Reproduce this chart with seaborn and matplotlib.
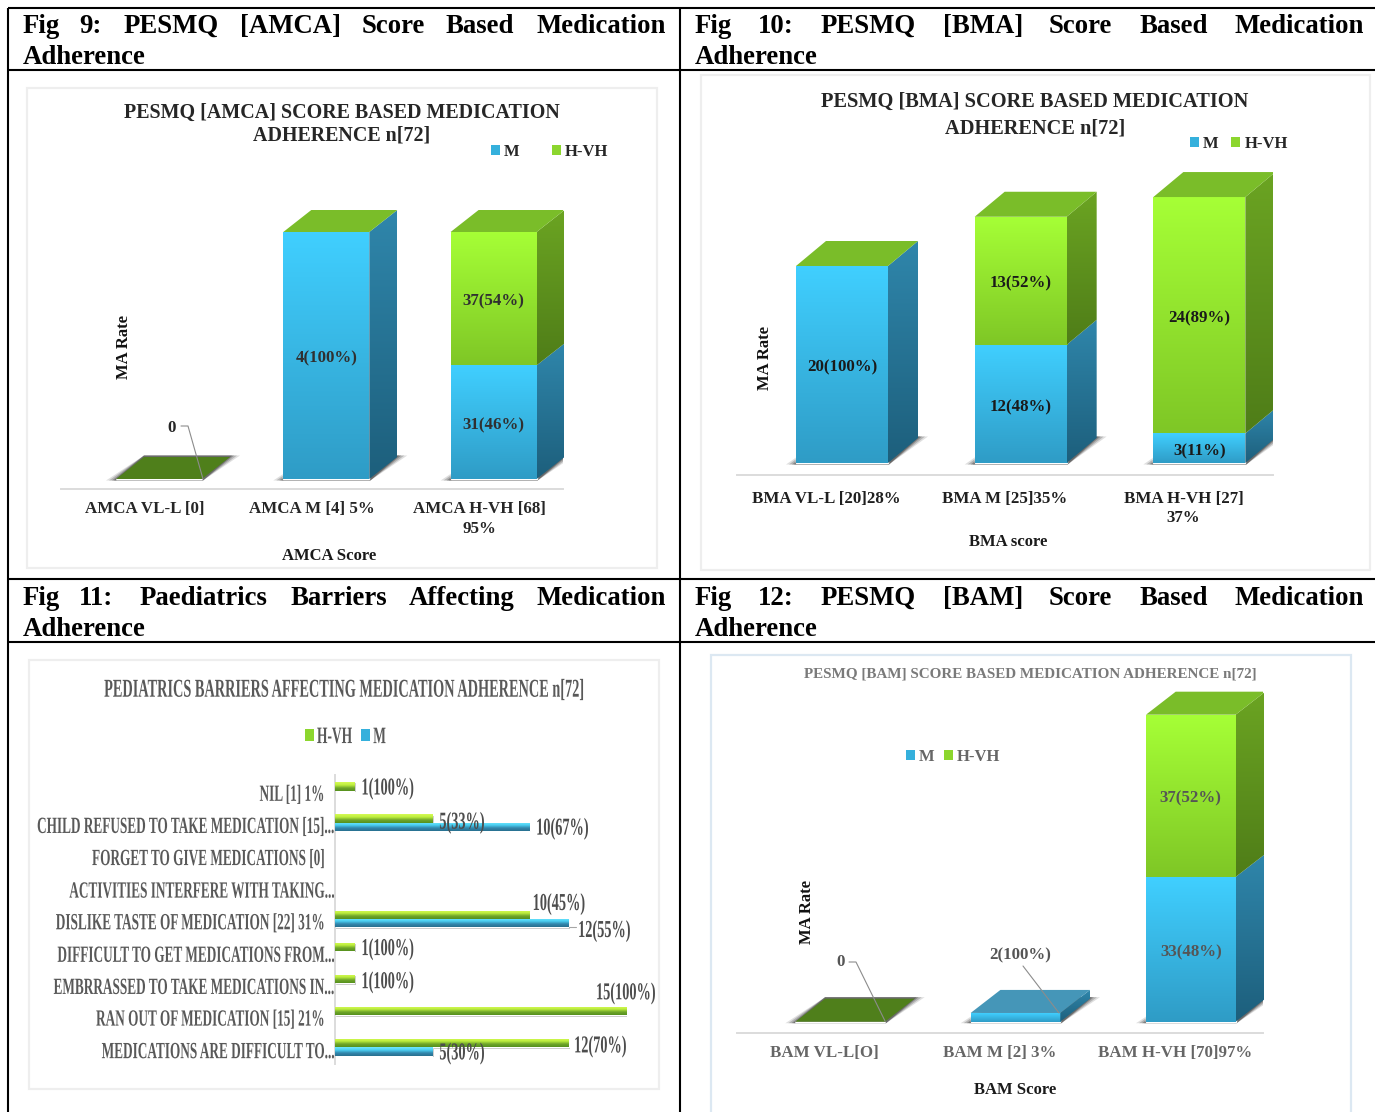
import numpy as np
import pandas as pd
import matplotlib
matplotlib.use("Agg")
import matplotlib.pyplot as plt
import seaborn as sns
from matplotlib.patches import Patch, Polygon, Rectangle
from matplotlib.patheffects import AbstractPathEffect
from matplotlib.transforms import Affine2D

# ---- Fig 9: AMCA (percentage stacked) ----
amca_categories = ["AMCA VL-L [0]", "AMCA M [4] 5%", "AMCA H-VH [68]\n95%"]
amca_m_pct = [0, 100, 46]
amca_hvh_pct = [0, 0, 54]
amca_m_labels = ["", "4(100%)", "31(46%)"]
amca_hvh_labels = ["", "", "37(54%)"]

# ---- Fig 10: BMA (counts) ----
bma_categories = ["BMA VL-L [20]28%", "BMA M [25]35%", "BMA H-VH [27]\n37%"]
bma_m = [20, 12, 3]
bma_hvh = [0, 13, 24]
bma_m_labels = ["20(100%)", "12(48%)", "3(11%)"]
bma_hvh_labels = ["", "13(52%)", "24(89%)"]

# ---- Fig 11: paediatric barriers (counts) ----
barrier_labels = [
    "NIL [1] 1%",
    "CHILD REFUSED TO TAKE MEDICATION [15]...",
    "FORGET TO GIVE MEDICATIONS [0]",
    "ACTIVITIES INTERFERE WITH TAKING...",
    "DISLIKE TASTE OF MEDICATION [22] 31%",
    "DIFFICULT TO GET MEDICATIONS FROM...",
    "EMBRRASSED TO TAKE MEDICATIONS IN...",
    "RAN OUT OF MEDICATION [15] 21%",
    "MEDICATIONS ARE DIFFICULT TO...",
]
barrier_hvh = [1, 5, 0, 0, 10, 1, 1, 15, 12]
barrier_m = [0, 10, 0, 0, 12, 0, 0, 0, 5]
barrier_hvh_labels = ["1(100%)", "5(33%)", "", "", "10(45%)", "1(100%)", "1(100%)", "15(100%)", "12(70%)"]
barrier_m_labels = ["", "10(67%)", "", "", "12(55%)", "", "", "", "5(30%)"]

# ---- Fig 12: BAM (counts) ----
bam_categories = ["BAM VL-L[O]", "BAM M [2] 3%", "BAM H-VH [70]97%"]
bam_m = [0, 2, 33]
bam_hvh = [0, 0, 37]
bam_m_labels = ["", "", "33(48%)"]
bam_hvh_labels = ["", "", "37(52%)"]
bam_m_callout = "2(100%)"

W, H = 1375, 1112
SERIF = ["Liberation Serif", "DejaVu Serif"]
M_FRONT = ["#40CFFF", "#2F9CC6"]
H_FRONT = ["#A6FF36", "#7FC726"]
M_SIDE = ["#2F86AB", "#1D5F7C"]
H_SIDE = ["#6BA422", "#4F7D18"]
TOP_GREEN = "#7ABD29"
TOP_DARK = "#4F7F1B"
TOP_BLUE = "#4596B8"
AXIS_GREY = "#DCDCDC"

sns.set_theme(style="white")
plt.rcParams["font.family"] = SERIF
plt.rcParams["font.weight"] = "bold"
plt.rcParams["axes.labelweight"] = "bold"


class Tall(AbstractPathEffect):
    """Stretch a text vertically about its middle, for a condensed look."""

    def __init__(self, sy, dx=0, dy=0):
        super().__init__()
        self.sy, self.dx, self.dy = sy, dx, dy

    def draw_path(self, renderer, gc, tpath, affine, rgbFace=None):
        box = tpath.get_extents(affine)
        mid = (box.y0 + box.y1) / 2
        stretch = Affine2D().translate(0, -mid).scale(1, self.sy).translate(self.dx, mid + self.dy)
        renderer.draw_path(gc, tpath, affine + stretch, rgbFace)


fig = plt.figure(figsize=(W / 100, H / 100), dpi=100, facecolor="white")


def pixel_axes(zorder):
    a = fig.add_axes([0, 0, 1, 1], zorder=zorder)
    a.set_xlim(0, W)
    a.set_ylim(H, 0)
    a.axis("off")
    a.patch.set_alpha(0)
    return a


back = pixel_axes(0)
front = pixel_axes(5)


def put(x, y, s, size, color="#262626", ha="center", sy=None):
    t = front.text(x, y + 1.5, s, fontsize=size, color=color, ha=ha, va="center", fontweight="bold")
    if sy is not None:
        t.set_path_effects([Tall(sy)])
    return t


# ---- table rules and captions ----
for y in (8, 70, 579, 642):
    back.plot([8, W], [y, y], color="black", lw=1.5, solid_capstyle="butt")
for x in (8, 680):
    back.plot([x, x], [8, H], color="black", lw=1.5, solid_capstyle="butt")

caption_rows = [
    (33, 64, [(23, "Fig"), (79, "9:"), (124, "PESMQ"), (240, "[AMCA]"), (362, "Score"), (446, "Based"), (537, "Medication")], 23),
    (33, 64, [(695, "Fig"), (758, "10:"), (821, "PESMQ"), (943, "[BMA]"), (1049, "Score"), (1140, "Based"), (1235, "Medication")], 695),
    (605, 636, [(23, "Fig"), (79, "11:"), (140, "Paediatrics"), (291, "Barriers"), (409, "Affecting"), (537, "Medication")], 23),
    (605, 636, [(695, "Fig"), (758, "12:"), (821, "PESMQ"), (943, "[BAM]"), (1049, "Score"), (1140, "Based"), (1235, "Medication")], 695),
]
for y1, y2, words, x2 in caption_rows:
    for x, word in words:
        back.text(x, y1, word, fontsize=19.3, color="black", fontweight="bold", va="baseline")
    back.text(x2, y2, "Adherence", fontsize=19.3, color="black", fontweight="bold", va="baseline")

# ---- chart frames ----
for x0, y0, x1, y1, edge in [
    (27, 88, 657, 568, "#EEEEEE"),
    (701, 75, 1370, 570, "#EEEEEE"),
    (29, 660, 659, 1089, "#EEEEEE"),
    (711, 655, 1351, 1130, "#DCE8F2"),
]:
    back.add_patch(Rectangle((x0, y0), x1 - x0, y1 - y0, fc="white", ec=edge, lw=1.6))


def ramp(stops, n=64):
    rgb = np.array([matplotlib.colors.to_rgb(c) for c in stops])
    pos = np.linspace(0, 1, len(stops))
    t = np.linspace(0, 1, n)
    return np.stack([np.interp(t, pos, rgb[:, k]) for k in range(3)], axis=1)[:, None, :]


def shade(ax, clip, l, r, bottom, top, stops, z):
    """Fill a patch with a vertical colour ramp, lightest at the upper edge."""
    im = ax.imshow(ramp(stops), extent=(l, r, bottom, top), origin="upper", aspect="auto",
                   interpolation="bilinear", zorder=z)
    im.set_clip_box(None)
    im.set_clip_path(clip)


def chart_axes(left, right, top, bottom):
    return fig.add_axes([left / W, 1 - bottom / H, (right - left) / W, (bottom - top) / H], zorder=2, facecolor="none")


def column_panel(categories, m, hvh, m_labels, hvh_labels, tops, axis, floor, ceiling, first_bar,
                 slot, bar_w, depth, per_value, xlabel, xlabel_at, ylabel_at, tick_color, label_color, pad):
    left, right, axis_y = axis
    ax = chart_axes(left, right, ceiling, axis_y)
    dx, dz = depth[0] / slot, depth[1] / per_value
    w = bar_w / slot
    m, hvh = np.array(m, float), np.array(hvh, float)

    # soft floor shadow underneath each column
    px, pz = 1 / slot, 1 / per_value
    for i in range(len(categories)):
        l, r = i - w / 2, i + w / 2
        for e, a in ((10, .16), (7, .25), (4, .35), (2, .4)):
            ax.add_patch(Polygon([(l - e * px, -1.5 * pz), (r + 1 * px, -1.5 * pz), (r + dx + e * px, dz + 1.5 * pz),
                                  (l + dx, dz + 1.5 * pz)], fc="#3A3A3A", alpha=a, lw=0, zorder=1))

    containers = []
    for vals, base, fcol, scol, labels, color in (
        (m, np.zeros(3), M_FRONT, M_SIDE, m_labels, "#3BB8E8"),
        (hvh, m, H_FRONT, H_SIDE, hvh_labels, "#94E42E"),
    ):
        sns.barplot(x=categories, y=vals, color=color, width=w, saturation=1, ax=ax, zorder=2, legend=False)
        cont = ax.containers[-1]
        for patch, b, v in zip(cont, base, vals):
            patch.set_y(b)
            if v <= 0:
                continue
            l, r = patch.get_x(), patch.get_x() + patch.get_width()
            shade(ax, patch, l, r, b, b + v, fcol, 3)
            side = Polygon([(r, b), (r + dx, b + dz), (r + dx, b + v + dz), (r, b + v)], fc="none", lw=0, zorder=3)
            ax.add_patch(side)
            shade(ax, side, r, r + dx, b, b + v + dz, scol, 3)
        containers.append((cont, labels))

    # lid of each column
    totals = m + hvh
    for i, (total, lid) in enumerate(zip(totals, tops)):
        l, r = i - w / 2, i + w / 2
        ax.add_patch(Polygon([(l, total), (r, total), (r + dx, total + dz), (l + dx, total + dz)],
                             fc=lid, ec="none", zorder=4))

    for cont, labels in containers:
        ax.bar_label(cont, labels=labels, label_type="center", padding=-2.2, fontsize=12.2, color=label_color,
                     fontweight="bold", zorder=6)

    shift = (first_bar - (left + slot / 2)) / slot
    ax.set_xticks(np.arange(len(categories)) - shift, categories)
    ax.tick_params(axis="x", length=0, pad=pad, labelsize=12.2, labelcolor=tick_color)
    for tick_label in ax.get_xticklabels():
        tick_label.set_linespacing(1.3)
    ax.set_yticks([])
    ax.set_xlim((left - first_bar) / slot, (right - first_bar) / slot)
    ax.set_ylim(-(axis_y - floor) / per_value, (floor - ceiling) / per_value)
    sns.despine(ax=ax, left=True)
    ax.spines["bottom"].set_color(AXIS_GREY)
    ax.spines["bottom"].set_linewidth(1.4)

    ax.set_xlabel(xlabel, fontsize=12, color="#1a1a1a", va="center", fontweight="bold")
    ax.xaxis.set_label_coords(xlabel_at[0], xlabel_at[1] + 1.5, transform=front.transData)
    ax.set_ylabel("MA Rate", fontsize=12, color="#111111", va="center", ha="center", fontweight="bold")
    ax.yaxis.set_label_coords(ylabel_at[0] + 2.5, ylabel_at[1], transform=front.transData)
    return ax


def series_legend(ax, at, order, size, pad, gap, color, handle_h=0.55, sy=None):
    tones = {"M": "#35B0DC", "H-VH": "#8CD62E"}
    handles = [Patch(fc=tones[s], ec="none", label=s) for s in order]
    leg = ax.legend(handles=handles, ncol=2, loc="center left", bbox_to_anchor=at, bbox_transform=front.transData,
                    frameon=False, borderaxespad=0, borderpad=0, handlelength=9 / (size * 100 / 72),
                    handleheight=handle_h, handletextpad=pad, columnspacing=gap, labelcolor=color,
                    prop={"family": SERIF, "weight": "bold", "size": size})
    if sy is not None:
        for t in leg.get_texts():
            t.set_path_effects([Tall(sy)])
    return leg


# ---- Fig 9 ----
ax9 = column_panel(amca_categories, amca_m_pct, amca_hvh_pct, amca_m_labels, amca_hvh_labels,
                   [TOP_DARK, TOP_GREEN, TOP_GREEN], (61, 563, 489), 479, 190, 159, 167.3, 86, (28, 22),
                   2.47, "AMCA Score", (329, 554), (122, 347), "#262626", "#303030", 8.8)
put(342, 111, "PESMQ [AMCA] SCORE BASED MEDICATION", 14.4)
put(342, 134, "ADHERENCE n[72]", 14.4)
series_legend(ax9, (491, 152), ["M", "H-VH"], 12, 0.25, 1.92, "#262626")
put(172, 426, "0", 12.2, "#262626")
front.plot([181, 188, 203], [426, 426, 479], color="#8C8C8C", lw=0.8)

# ---- Fig 10 ----
ax10 = column_panel(bma_categories, bma_m, bma_hvh, bma_m_labels, bma_hvh_labels,
                    [TOP_GREEN] * 3, (737, 1273, 475), 463, 160, 842, 178.67, 92, (30, 25),
                    9.85, "BMA score", (1008, 540), (763, 358), "#1f1f1f", "#1a1a1a", 11.2)
put(1035, 100, "PESMQ [BMA] SCORE BASED MEDICATION", 14.7)
put(1035, 127, "ADHERENCE n[72]", 14.7)
series_legend(ax10, (1190, 144), ["M", "H-VH"], 12, 0.25, 0.76, "#262626")

# ---- Fig 12 ----
ax12 = column_panel(bam_categories, bam_m, bam_hvh, bam_m_labels, bam_hvh_labels,
                    [TOP_DARK, TOP_BLUE, TOP_GREEN], (737, 1263, 1033), 1021.7, 680, 840.2, 175.3, 89.6, (29.7, 23),
                    4.386, "BAM Score", (1015, 1089), (805, 912), "#666666", "#555555", 8.8)
put(1030.5, 673, "PESMQ [BAM] SCORE BASED MEDICATION ADHERENCE n[72]", 10.9, "#7A7A7A")
series_legend(ax12, (906, 757), ["M", "H-VH"], 12, 0.25, 0.55, "#666666")
put(841, 961, "0", 12.2, "#555555")
put(1020, 954, bam_m_callout, 12.2, "#555555")
front.plot([849, 856, 885], [962, 962, 1021], color="#8C8C8C", lw=0.8)
front.plot([1023, 1059], [966, 1013], color="#8C8C8C", lw=0.8)

# ---- Fig 11 ----
ax11 = chart_axes(335, 627, 774.5, 1063.5)
long_barriers = pd.DataFrame({
    "barrier": barrier_labels * 2,
    "value": barrier_hvh + barrier_m,
    "series": ["H-VH"] * 9 + ["M"] * 9,
})
sns.barplot(data=long_barriers, y="barrier", x="value", hue="series", hue_order=["H-VH", "M"],
            palette={"H-VH": "#94E42E", "M": "#3BB8E8"}, width=0.52, saturation=1, orient="h",
            ax=ax11, legend=False, zorder=2)
px11 = 15 / 292
band_stops = {0: ["#D6FA55", "#BDEE3E", "#6FA52A", "#55901E"], 1: ["#70E8FF", "#4ACFF2", "#3286AC", "#28708F"]}
for k, cont in enumerate(ax11.containers):
    for patch, v in zip(cont, (barrier_hvh, barrier_m)[k]):
        if v <= 0:
            continue
        l, y, bw, bh = patch.get_x(), patch.get_y(), patch.get_width(), patch.get_height()
        ax11.add_patch(Rectangle((l, y + 0.04), bw + 1.5 * px11, bh, fc="#555555", alpha=.35, lw=0, zorder=1))
        shade(ax11, patch, l, l + bw, y + bh, y, band_stops[k], 3)

hvh_offsets = [(7, 2), (7, 0), None, None, (3, 15), (7, 2), (7, 1), (-31, 22), (5.5, 1)]
m_offsets = [None, (6.5, -6), None, None, (9.5, -12), None, None, None, (7, -6)]
for values, texts, offsets in ((barrier_hvh, barrier_hvh_labels, hvh_offsets), (barrier_m, barrier_m_labels, m_offsets)):
    for row, (val, lab, off) in enumerate(zip(values, texts, offsets)):
        if lab:
            ax11.annotate(lab, xy=(val, row), xytext=off, textcoords="offset pixels", fontsize=10.3, color="#4D4D4D",
                          va="center", ha="left", fontweight="bold", path_effects=[Tall(1.7)], zorder=6,
                          annotation_clip=False)
front.plot([569, 576], [927, 927], color="#A6A6A6", lw=0.8)

ax11.set_xlim(0, 15)
ax11.set_ylim(8.5, -0.5)
ax11.set_xticks([])
ax11.set_xlabel("")
ax11.set_ylabel("")
ax11.tick_params(axis="y", length=0, pad=0.6, labelsize=9.55, labelcolor="#595959")
for tick_label in ax11.get_yticklabels():
    trimmed = tick_label.get_text().endswith("...")
    tick_label.set_path_effects([Tall(1.75, dx=0 if trimmed else -10, dy=-3)])
sns.despine(ax=ax11, bottom=True)
ax11.spines["left"].set_color(AXIS_GREY)
ax11.spines["left"].set_linewidth(1.4)
put(344, 688.5, "PEDIATRICS BARRIERS AFFECTING MEDICATION ADHERENCE n[72]", 10.3, "#595959", sy=1.8)
series_legend(ax11, (305, 736), ["H-VH", "M"], 9.7, 0.22, 0.67, "#595959", handle_h=1.0, sy=1.75)

fig.savefig("out.png", dpi=100)
